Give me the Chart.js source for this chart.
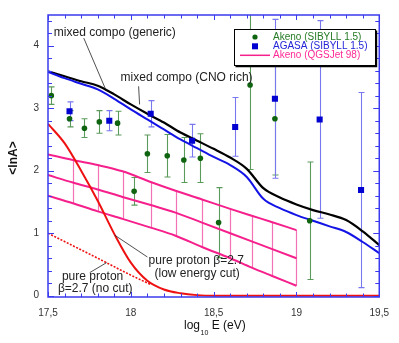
<!DOCTYPE html>
<html><head><meta charset="utf-8">
<script src="https://cdn.jsdelivr.net/npm/chart.js@4"></script>
<style>html,body{margin:0;padding:0;background:#fff;}canvas{display:block}</style>
</head><body>
<canvas id="c" width="399" height="343"></canvas>
<script>
// ---------- data ----------
const curveE = [17.5,17.6,17.7,17.8,17.9,18.0,18.1,18.2,18.3,18.4,18.5,18.6,18.7,18.8,18.9,19.0,19.1,19.2,19.3,19.4,19.5];
const mixedCNO = [3.59,3.51,3.43,3.36,3.22,3.06,2.91,2.77,2.61,2.48,2.35,2.21,2.03,1.72,1.57,1.46,1.37,1.30,1.21,1.03,0.81];
const mixedGeneric = [3.58,3.48,3.39,3.30,3.15,2.98,2.82,2.66,2.50,2.36,2.22,2.09,1.90,1.55,1.40,1.29,1.20,1.11,1.02,0.86,0.68];

const protonCutE = [17.5,17.6,17.7,17.8,17.9,18.0,18.1,18.2,18.3,18.4,18.5,19.5];
const protonCut = [2.75,2.44,2.00,1.52,0.99,0.53,0.24,0.10,0.04,0.01,0,0];
const protonNoCutE = [17.5,17.8,18.0,18.12];
const protonNoCut = [1.0,0.60,0.33,0.18];

const akenoE = [17.52,17.63,17.72,17.81,17.92,18.02,18.10,18.22,18.32,18.42,18.53,18.72,18.87,19.08];
const akenoLnA = [3.20,2.83,2.68,2.78,2.76,1.67,2.27,2.24,2.17,2.20,1.17,3.37,2.83,1.20];
const akenoErr = [0.14,0.13,0.15,0.18,0.19,0.22,0.30,0.34,0.36,0.39,0.56,1.35,0.90,0.94];

const agasaE = [17.63,17.87,18.12,18.37,18.63,18.87,19.14,19.39];
const agasaLnA = [2.95,2.80,2.91,2.48,2.70,3.15,2.82,1.69];
const agasaErr = [0.15,0.16,0.21,0.26,0.47,1.27,1.58,1.56];

const qgsE = [17.5,17.65,17.8,17.95,18.12,18.27,18.43,18.6,18.73,18.85,19.0];
const qgsLnA = [1.93,1.81,1.70,1.58,1.45,1.33,1.17,1.00,0.87,0.75,0.60];
const qgsUpper = [2.26,2.17,2.09,1.99,1.82,1.68,1.54,1.39,1.28,1.18,1.05];
const qgsLower = [1.60,1.48,1.35,1.23,1.09,0.96,0.78,0.60,0.45,0.32,0.16];

const xTickLabels = ['17,5','18','18,5','19','19,5'];
const yTickLabels = ['0','1','2','3','4'];

const legendLabels = ['Akeno (SIBYLL 1.5)','AGASA (SIBYLL 1.5)','Akeno (QGSJet 98)'];

// annotations in data units
const notes = [
  {text:'mixed compo (generic)', x:17.535, y:4.21},
  {text:'mixed compo (CNO rich)', x:17.938, y:3.485},
  {text:'pure proton \u03b2=2.7', x:18.107, y:0.56},
  {text:'(low energy cut)', x:18.143, y:0.35},
  {text:'pure proton', x:17.584, y:0.30},
  {text:'\u03b2=2.7 (no cut)', x:17.56, y:0.12}
];
const pointers = [
  [17.716,4.12,17.848,3.30],
  [18.047,3.35,18.053,3.06],
  [17.902,0.97,18.10,0.62],
  [17.752,0.37,17.854,0.53]
];

// ---------- colours ----------
const C = {
  frame:'#3a3af0', black:'#000000', blue:'#1414e6', red:'#ee1111', pink:'#f5208c', pinkV:'#f272b4',
  green:'#0f650f', greenErr:'#5a9a5a', agasa:'#0000d0', agasaErr:'#7878ee', text:'#222222'
};

const xy = (xs, ys) => xs.map((x,i)=>({x:x, y:ys[i]}));
const FONT = "'Liberation Sans', Arial, Helvetica, sans-serif";
Chart.defaults.font.family = FONT;
Chart.defaults.color = '#333';

const lineDs = (label, data, color, width, extra) => Object.assign({
  type:'line', label, data, borderColor:color, backgroundColor:color, borderWidth:width,
  pointRadius:0, fill:false, tension:0.3, cubicInterpolationMode:'monotone'
}, extra||{});

const plugin = {
  id:'decor',
  beforeDatasetsDraw(chart){
    const ctx = chart.ctx, xs = chart.scales.x, ys = chart.scales.y, a = chart.chartArea;
    ctx.save();
    ctx.beginPath(); ctx.rect(a.left, a.top, a.right-a.left, a.bottom-a.top); ctx.clip();
    ctx.strokeStyle = C.pinkV; ctx.lineWidth = 1.2;
    for (let i=1;i<qgsE.length;i++){
      const px = Math.round(xs.getPixelForValue(qgsE[i]))+0.5;
      ctx.beginPath(); ctx.moveTo(px, ys.getPixelForValue(qgsUpper[i])); ctx.lineTo(px, ys.getPixelForValue(qgsLower[i])); ctx.stroke();
    }
    const bars = (E, V, Er, col) => {
      ctx.strokeStyle = col; ctx.lineWidth = 1.1;
      for (let i=0;i<E.length;i++){
        const px = Math.round(xs.getPixelForValue(E[i]))+0.5;
        const t = ys.getPixelForValue(V[i]+Er[i]), b = ys.getPixelForValue(V[i]-Er[i]);
        ctx.beginPath(); ctx.moveTo(px,t); ctx.lineTo(px,b);
        ctx.moveTo(px-3,t); ctx.lineTo(px+3,t); ctx.moveTo(px-3,b); ctx.lineTo(px+3,b); ctx.stroke();
      }
    };
    bars(akenoE, akenoLnA, akenoErr, C.greenErr);
    bars(agasaE, agasaLnA, agasaErr, C.agasaErr);
    ctx.restore();
  },
  afterDraw(chart){
    const ctx = chart.ctx, xs = chart.scales.x, ys = chart.scales.y, a = chart.chartArea;
    ctx.save();
    ctx.strokeStyle = C.frame; ctx.lineWidth = 1.5;
    ctx.strokeRect(a.left, a.top, a.right-a.left, a.bottom-a.top);
    ctx.lineWidth = 1;
    ctx.beginPath();
    for (let k=0;k<=20;k++){
      const px = Math.round(xs.getPixelForValue(17.5+k*0.1))+0.5;
      const L = (k%5===0)?5:3.5;
      ctx.moveTo(px,a.bottom); ctx.lineTo(px,a.bottom-L);
      ctx.moveTo(px,a.top); ctx.lineTo(px,a.top+L);
    }
    for (let k=0;k<=22;k++){
      const py = Math.round(ys.getPixelForValue(k*0.2))+0.5;
      const L = (k%5===0)?6:4;
      ctx.moveTo(a.left,py); ctx.lineTo(a.left+L,py);
      ctx.moveTo(a.right,py); ctx.lineTo(a.right-L,py);
    }
    ctx.stroke();

    ctx.fillStyle = C.text; ctx.font = '12px '+FONT; ctx.textBaseline = 'middle'; ctx.textAlign = 'left';
    notes.forEach(n=>ctx.fillText(n.text, xs.getPixelForValue(n.x), ys.getPixelForValue(n.y)));
    ctx.strokeStyle = '#222'; ctx.lineWidth = 0.8;
    pointers.forEach(p=>{ctx.beginPath(); ctx.moveTo(xs.getPixelForValue(p[0]), ys.getPixelForValue(p[1])); ctx.lineTo(xs.getPixelForValue(p[2]), ys.getPixelForValue(p[3])); ctx.stroke();});

    const lx=234, ly=29, lw=141, lh=36;
    ctx.fillStyle='#fff'; ctx.fillRect(lx,ly,lw,lh);
    ctx.strokeStyle='#000'; ctx.lineWidth=1; ctx.strokeRect(lx+0.5,ly+0.5,lw,lh);
    ctx.lineWidth=1.2; ctx.beginPath(); ctx.moveTo(lx+1.5,ly+lh+1.6); ctx.lineTo(lx+lw+1.6,ly+lh+1.6); ctx.lineTo(lx+lw+1.6,ly+1.5); ctx.stroke();
    ctx.font='10px '+FONT; ctx.textBaseline='middle';
    const rows=[37,46.3,55.3], tcols=['#257a25','#2424d8','#ff2a96'];
    ctx.fillStyle=C.green; ctx.beginPath(); ctx.arc(255,rows[0],2.6,0,Math.PI*2); ctx.fill();
    ctx.fillStyle=C.agasa; ctx.fillRect(252,rows[1]-3,6,6);
    ctx.strokeStyle=C.pink; ctx.lineWidth=1.5; ctx.beginPath(); ctx.moveTo(240,rows[2]); ctx.lineTo(270,rows[2]); ctx.stroke();
    legendLabels.forEach((t,i)=>{ctx.fillStyle=tcols[i]; ctx.fillText(t,273,rows[i]);});

    ctx.fillStyle='#111'; ctx.font='12px '+FONT; ctx.textAlign='left';
    let x0=184; const yb=326;
    ctx.fillText('log', x0, yb); x0 += ctx.measureText('log').width+0.5;
    ctx.font='7px '+FONT; ctx.fillText('10', x0, yb+7); x0 += ctx.measureText('10').width;
    ctx.font='12px '+FONT; ctx.fillText(' E (eV)', x0, yb);
    ctx.save(); ctx.translate(14,158); ctx.rotate(-Math.PI/2);
    ctx.font='bold 12px '+FONT; ctx.textAlign='center'; ctx.fillText('<lnA>',0,0); ctx.restore();
    ctx.restore();
  }
};

new Chart(document.getElementById('c'), {
  type:'scatter',
  data:{datasets:[
    lineDs('QGSJet upper', xy(qgsE,qgsUpper), C.pink, 2, {order:9, tension:0}),
    lineDs('Akeno (QGSJet 98)', xy(qgsE,qgsLnA), C.pink, 2, {order:9, tension:0}),
    lineDs('QGSJet lower', xy(qgsE,qgsLower), C.pink, 2, {order:9, tension:0}),
    lineDs('pure proton (low energy cut)', xy(protonCutE,protonCut), C.red, 2, {order:8}),
    lineDs('pure proton (no cut)', xy(protonNoCutE,protonNoCut), C.red, 1.6, {order:8, borderDash:[2,1.5], tension:0}),
    lineDs('mixed compo (CNO rich)', xy(curveE,mixedCNO), C.black, 2.2, {order:7}),
    lineDs('mixed compo (generic)', xy(curveE,mixedGeneric), C.blue, 2, {order:6}),
    {label:'Akeno (SIBYLL 1.5)', data:xy(akenoE,akenoLnA), pointStyle:'circle', pointRadius:2.8, backgroundColor:C.green, borderColor:C.green, borderWidth:0, order:2},
    {label:'AGASA (SIBYLL 1.5)', data:xy(agasaE,agasaLnA), pointStyle:'rect', pointRadius:4.3, backgroundColor:C.agasa, borderColor:C.agasa, borderWidth:0, order:1}
  ]},
  options:{
    responsive:false, animation:false, maintainAspectRatio:false,
    layout:{padding:{left:0,top:14,right:18,bottom:0}},
    plugins:{legend:{display:false}, tooltip:{enabled:false}},
    scales:{
      x:{type:'linear', min:17.5, max:19.5, grid:{display:false, drawTicks:false}, border:{display:false},
         afterFit(s){s.height=46;},
         afterBuildTicks(s){s.ticks = xTickLabels.map((t,i)=>({value:17.5+i*0.5, label:t}));},
         ticks:{autoSkip:false, maxRotation:0, padding:10, font:{size:10}, color:'#333', callback(v,i){return xTickLabels[i];}}},
      y:{type:'linear', min:-0.02, max:4.49, grid:{display:false, drawTicks:false}, border:{display:false},
         afterFit(s){s.width=48;},
         afterBuildTicks(s){s.ticks = yTickLabels.map((t,i)=>({value:i, label:t}));},
         ticks:{autoSkip:false, padding:9, font:{size:10}, color:'#333', callback(v,i){return yTickLabels[i];}}}
    }
  },
  plugins:[plugin]
});
</script>
</body></html>
